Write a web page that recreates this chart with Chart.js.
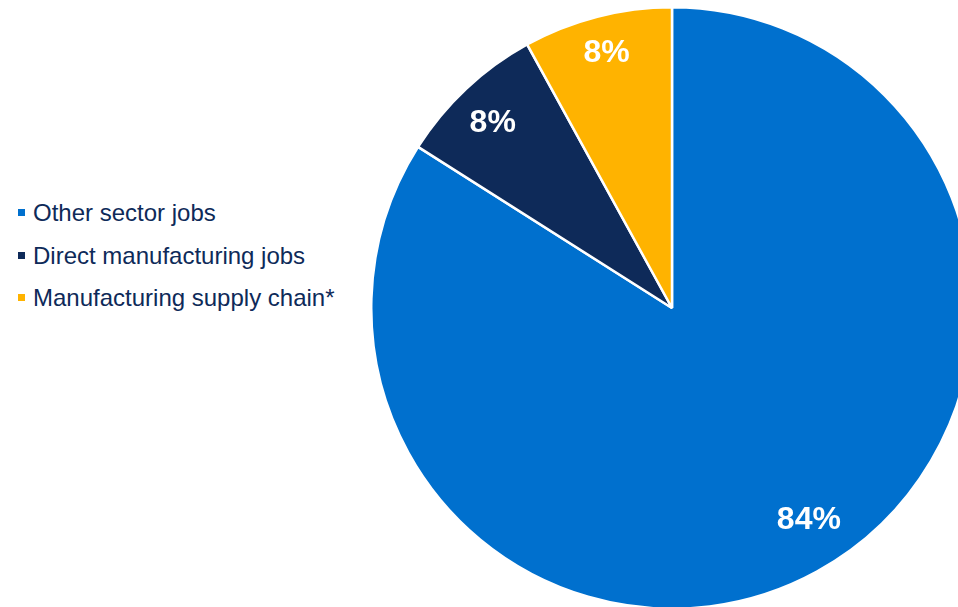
<!DOCTYPE html>
<html>
<head>
<meta charset="utf-8">
<script src="https://cdn.jsdelivr.net/npm/chart.js@4.4.1/dist/chart.umd.min.js"></script>
<style>
  html, body { margin: 0; padding: 0; background: #fff; }
  #stage { position: relative; width: 958px; height: 607px; overflow: hidden; }
  #chartBox { position: absolute; left: 370px; top: 6px; width: 604px; height: 604px; }
  #legend { position: absolute; left: 18px; top: 192px; font-family: "Liberation Sans", Arial, sans-serif;
            font-size: 24px; color: #0e2a59; }
  .item { height: 42.5px; line-height: 42px; white-space: nowrap; }
  .swatch { display: inline-block; width: 7px; height: 7px; margin-right: 8px; vertical-align: 5px; }
</style>
</head>
<body>
<div id="stage">
  <div id="legend"></div>
  <div id="chartBox"><canvas id="chart" width="604" height="604"></canvas></div>
</div>
<script>
// Anteile der Jobs in Prozent
const labels = ['Other sector jobs', 'Direct manufacturing jobs', 'Manufacturing supply chain*'];
const values = [84, 8, 8];
const colors = ['#0070ce', '#0e2a59', '#ffb300'];

// Legende links als HTML
const legendBox = document.getElementById('legend');
labels.forEach((label, i) => {
  legendBox.innerHTML += `<div class="item"><span class="swatch" style="background:${colors[i]}"></span>${label}</div>`;
});

// Position der Prozentwerte: Anteil vom Radius und kleine Winkelkorrektur (Grad)
const labelRadius = [0.84, 0.855, 0.875];
const labelTurn = [-4, -1, 0];

// Prozentwerte in die Segmente schreiben
const sliceLabels = {
  id: 'sliceLabels',
  afterDatasetsDraw(chart) {
    const ctx = chart.ctx;
    const meta = chart.getDatasetMeta(0);
    ctx.save();
    ctx.font = 'bold 32px "Liberation Sans", Arial, sans-serif';
    ctx.fillStyle = '#ffffff';
    ctx.textAlign = 'center';
    ctx.textBaseline = 'middle';
    meta.data.forEach((arc, i) => {
      const mid = (arc.startAngle + arc.endAngle) / 2 + labelTurn[i] * Math.PI / 180;
      const r = arc.outerRadius * labelRadius[i];
      ctx.fillText(values[i] + '%', arc.x + Math.cos(mid) * r, arc.y + Math.sin(mid) * r);
    });
    ctx.restore();
  }
};

new Chart(document.getElementById('chart'), {
  type: 'pie',
  data: {
    labels: labels,
    datasets: [{
      data: values,
      backgroundColor: colors,
      borderColor: '#ffffff',
      borderWidth: 2.5
    }]
  },
  options: {
    responsive: false,
    animation: false,
    layout: { padding: 0 },
    plugins: {
      legend: { display: false },
      tooltip: { enabled: false }
    }
  },
  plugins: [sliceLabels]
});
</script>
</body>
</html>
